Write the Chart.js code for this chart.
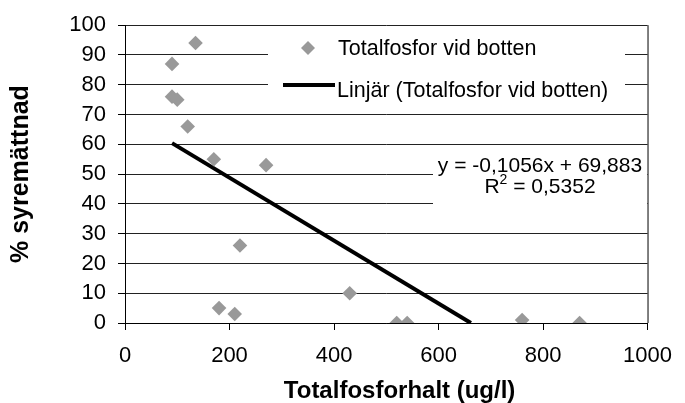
<!DOCTYPE html>
<html>
<head>
<meta charset="utf-8">
<script src="https://cdn.jsdelivr.net/npm/chart.js@4.4.0/dist/chart.umd.min.js"></script>
<style>
  html, body { margin: 0; padding: 0; background: #fff; }
  #wrap { width: 685px; height: 403px; }
</style>
</head>
<body>
<div id="wrap"><canvas id="fosforChart" width="685" height="403"></canvas></div>
<script>
// measured points: totalfosfor (ug/l) vs % syremättnad
const fosforX = [90, 90, 100, 120, 135, 170, 180, 210, 220, 270, 430, 520, 540, 760, 870];
const syreY   = [87, 76, 75, 66, 94, 55, 5, 3, 26, 53, 10, 0, 0, 1, 0];

// Excel trendline, drawn from min x down to where it meets 0
const trendX = [90, 662];
const trendY = [60.4, 0];

const xTicks = [0, 200, 400, 600, 800, 1000];
const yTicks = [0, 10, 20, 30, 40, 50, 60, 70, 80, 90, 100];

const seriesLabel = 'Totalfosfor vid botten';
const trendLabel = 'Linjär (Totalfosfor vid botten)';
const eqLine = 'y = -0,1056x + 69,883';
const r2Value = '0,5352';

const FONT = '"Liberation Sans", Arial, sans-serif';
Chart.defaults.font.family = FONT;
Chart.defaults.color = '#000';

const ctx = document.getElementById('fosforChart').getContext('2d');

// legend box, equation label and right frame line (Excel look)
const excelBoxes = {
    id: 'excelBoxes',
    beforeDatasetsDraw(chart) {
        const c = chart.ctx;
        const area = chart.chartArea;
        const ds = chart.data.datasets;
        c.save();

        c.strokeStyle = '#000';
        c.lineWidth = 1;
        c.beginPath();
        c.moveTo(area.right + 0.5, area.top);
        c.lineTo(area.right + 0.5, area.bottom);
        c.stroke();

        c.fillStyle = '#fff';
        c.fillRect(268, 28, 357, 81);
        c.fillRect(433, 147, 214, 59);

        // legend: diamond
        c.fillStyle = ds[0].backgroundColor;
        c.beginPath();
        c.moveTo(308, 41);
        c.lineTo(315, 48);
        c.lineTo(308, 55);
        c.lineTo(301, 48);
        c.closePath();
        c.fill();

        // legend: line
        c.strokeStyle = ds[1].borderColor;
        c.lineWidth = 4;
        c.beginPath();
        c.moveTo(283, 85);
        c.lineTo(335, 85);
        c.stroke();

        c.fillStyle = '#000';
        c.font = '21.5px ' + FONT;
        c.textBaseline = 'alphabetic';
        c.textAlign = 'left';
        c.fillText(ds[0].label, 338, 55);
        c.fillText(ds[1].label, 337, 97);

        // equation
        c.font = '21px ' + FONT;
        c.textAlign = 'center';
        c.fillText(eqLine, 540, 172);
        c.textAlign = 'left';
        const rW = c.measureText('R').width;
        c.font = '14px ' + FONT;
        const supW = c.measureText('2').width;
        c.font = '21px ' + FONT;
        const restW = c.measureText(' = ' + r2Value).width;
        let x0 = 540 - (rW + supW + restW) / 2;
        c.fillText('R', x0, 193);
        c.font = '14px ' + FONT;
        c.fillText('2', x0 + rW, 184);
        c.font = '21px ' + FONT;
        c.fillText(' = ' + r2Value, x0 + rW + supW, 193);

        c.restore();
    }
};

new Chart(ctx, {
    type: 'scatter',
    data: {
        datasets: [{
            label: seriesLabel,
            data: fosforX.map((x, i) => ({ x: x, y: syreY[i] })),
            pointStyle: 'rectRot',
            pointRadius: 7.3,
            backgroundColor: '#999999',
            borderColor: '#999999',
            borderWidth: 0
        }, {
            label: trendLabel,
            data: trendX.map((x, i) => ({ x: x, y: trendY[i] })),
            showLine: true,
            pointRadius: 0,
            borderColor: '#000000',
            borderWidth: 4
        }]
    },
    options: {
        responsive: false,
        animation: false,
        devicePixelRatio: 1,
        layout: { padding: { top: 24, right: 29, bottom: 0, left: 0 } },
        plugins: {
            legend: { display: false },
            tooltip: { enabled: false }
        },
        scales: {
            x: {
                type: 'linear',
                min: 0,
                max: 1000,
                afterBuildTicks: s => { s.ticks = xTicks.map(v => ({ value: v })); },
                afterFit: s => { s.height = 80; },
                ticks: {
                    callback: v => String(v),
                    font: { size: 22 },
                    padding: 13,
                    maxRotation: 0
                },
                grid: {
                    drawOnChartArea: false,
                    drawTicks: true,
                    tickLength: 7,
                    tickColor: '#000'
                },
                border: { color: '#000' },
                title: {
                    display: true,
                    // leading spaces nudge the centred title right, as in the original
                    text: '    Totalfosforhalt (ug/l)',
                    font: { size: 24, weight: 'bold', lineHeight: 1 },
                    padding: { top: 0, bottom: 0 }
                }
            },
            y: {
                min: 0,
                max: 100,
                afterBuildTicks: s => { s.ticks = yTicks.map(v => ({ value: v })); },
                afterFit: s => { s.width = 125; },
                ticks: {
                    callback: v => String(v),
                    font: { size: 22 },
                    padding: 12
                },
                grid: {
                    color: '#222',
                    drawTicks: true,
                    tickLength: 7,
                    tickColor: '#000'
                },
                border: { color: '#000' },
                title: {
                    display: true,
                    text: '% syremättnad',
                    font: { size: 25, weight: 'bold', lineHeight: 1 },
                    padding: { top: 9, bottom: 0 }
                }
            }
        }
    },
    plugins: [excelBoxes]
});
</script>
</body>
</html>
